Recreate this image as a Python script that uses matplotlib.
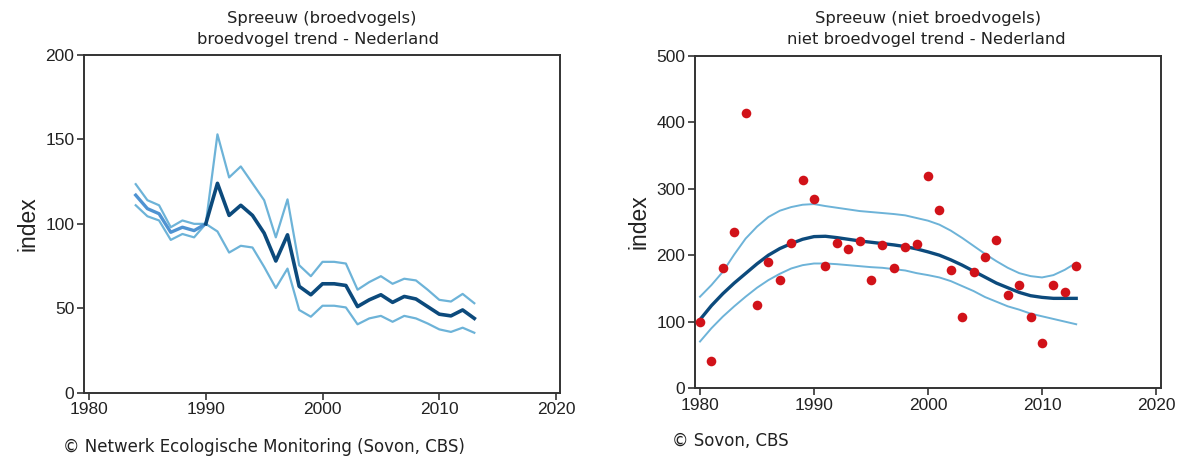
import matplotlib
matplotlib.use("Agg")
import matplotlib.pyplot as plt

# --- Left: broedvogels (breeding birds), yearly index with confidence band ---
breed_years = list(range(1984, 2014))
breed_index = [117, 109, 106, 95, 98, 96, 100, 124, 105, 111, 105, 94.5, 78, 93.5, 63, 58,
               64.5, 64.5, 63.5, 51, 55, 58, 53.5, 57, 55.5, 51, 46.5, 45.5, 49, 44]
breed_upper = [123.5, 114, 111, 98, 102, 100, 100, 153, 127.5, 134, 124, 114, 92, 114.5, 75.5, 69,
               77.5, 77.5, 76.5, 61, 65.5, 69, 64.5, 67.5, 66.5, 61, 55, 54, 58.5, 53]
breed_lower = [111, 104.5, 102, 90.5, 94, 92, 100, 95.5, 83, 87, 86, 74.5, 62, 73.5, 49, 45,
               51.5, 51.5, 50.5, 40.5, 44, 45.5, 42, 45.5, 44, 41, 37.5, 36, 38.5, 35.5]
base_year = 1990

# --- Right: niet broedvogels (non-breeding birds), yearly counts + smoothed trend ---
winter_years = list(range(1980, 2014))
winter_index = [100, 40, 180, 235, 414, 125, 190, 162, 218, 314, 284, 183, 218, 210, 222, 163,
                215, 180, 213, 217, 320, 268, 178, 107, 175, 198, 223, 140, 155, 107, 68, 155,
                145, 183]
winter_trend = [103, 124, 142, 158, 172.5, 187, 200, 210, 217.5, 224, 228, 228.5, 226.5, 224,
                221.5, 219.5, 217.5, 215.5, 213, 209.5, 205, 200, 193, 185, 176, 167, 158, 151,
                144, 139, 136.5, 135, 135, 135]
winter_upper = [137.5, 155, 175, 201, 225, 243, 257.5, 267, 272.5, 276, 277, 274, 271.5, 269,
                266.5, 265, 263.5, 262, 260, 256, 252, 246, 237, 226, 214, 202, 191, 181, 173,
                168.5, 166.5, 170, 178, 188.5]
winter_lower = [70, 90, 107.5, 123, 137.5, 151, 162.5, 172, 180, 185, 187.5, 187.5, 186.5, 185,
                183.5, 182, 181, 179, 177, 173, 170, 166.5, 161, 153.5, 146, 137, 130, 123, 118,
                112, 108, 104, 100, 96]

# --- Styling ---
DARK = "#0c4a7c"
EARLY = "#4f93d2"
BAND = "#6db3d8"
DOT = "#d11219"
SPINE = "#333333"
TXT = "#222222"
W, H = 1182, 461

fig = plt.figure(figsize=(W / 100, H / 100), dpi=100)


def style_axes(ax, ylim, yticks, xlim):
    ax.set_xlim(*xlim)
    ax.set_ylim(*ylim)
    ax.set_yticks(yticks)
    ax.set_xticks([1980, 1990, 2000, 2010, 2020])
    for s in ax.spines.values():
        s.set_color(SPINE)
        s.set_linewidth(1.4)
    ax.tick_params(direction="out", length=5, width=1.2, color=SPINE, pad=2,
                   labelsize=12.5, labelcolor=TXT)
    for lab in ax.get_xticklabels() + ax.get_yticklabels():
        lab.set_fontfamily("Liberation Sans")
    ax.set_ylabel("index", fontsize=16.5, color=TXT, family="Liberation Sans", labelpad=4)


# --- Left chart ---
ax1 = fig.add_axes([84 / W, 1 - 392.7 / H, (560 - 84) / W, (392.7 - 55) / H])
split = breed_years.index(base_year) + 1
ax1.plot(breed_years, breed_upper, color=BAND, lw=1.6)
ax1.plot(breed_years, breed_lower, color=BAND, lw=1.6)
ax1.plot(breed_years[:split], breed_index[:split], color=EARLY, lw=2.4)
ax1.plot(breed_years[split - 1:], breed_index[split - 1:], color=DARK, lw=2.6)
style_axes(ax1, (0, 200), [0, 50, 100, 150, 200], (1979.57, 2020.34))

# --- Right chart ---
ax2 = fig.add_axes([695 / W, 1 - 388 / H, (1161 - 695) / W, (388 - 56) / H])
ax2.plot(winter_years, winter_upper, color=BAND, lw=1.4)
ax2.plot(winter_years, winter_lower, color=BAND, lw=1.4)
ax2.plot(winter_years, winter_trend, color=DARK, lw=2.4)
ax2.scatter(winter_years, winter_index, s=48, color=DOT, zorder=3, linewidths=0)
style_axes(ax2, (0, 500), [0, 100, 200, 300, 400, 500], (1979.56, 2020.44))

# --- Titles and credits ---
tfont = dict(family="DejaVu Sans", fontsize=11.8, color=TXT, ha="center", va="center")
fig.text(322 / W, 1 - 18 / H, "Spreeuw (broedvogels)", **tfont)
fig.text(318 / W, 1 - 39 / H, "broedvogel trend - Nederland", **tfont)
fig.text(928 / W, 1 - 18 / H, "Spreeuw (niet broedvogels)", **tfont)
fig.text(926 / W, 1 - 39 / H, "niet broedvogel trend - Nederland", **tfont)

cfont = dict(family="DejaVu Sans", fontsize=12, color=TXT, ha="left", va="center")
fig.text(63 / W, 1 - 447 / H, "© Netwerk Ecologische Monitoring (Sovon, CBS)", **cfont)
fig.text(672 / W, 1 - 441 / H, "© Sovon, CBS", **cfont)

fig.savefig("out.png", dpi=100)
